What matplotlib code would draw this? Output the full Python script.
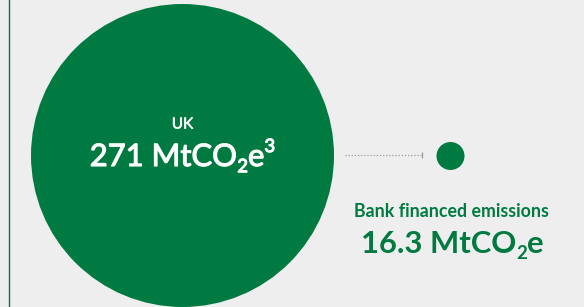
import matplotlib
matplotlib.use("Agg")
import matplotlib.pyplot as plt
from matplotlib.patches import Circle
from matplotlib.transforms import offset_copy
import matplotlib.patheffects as pe

# Data
categories = ["UK", "Bank financed emissions"]
emissions = [271, 16.3]          # MtCO2e
footnotes = ["3", ""]

GREEN = "#007A40"
BG = "#EEEEEE"

plt.rcParams["font.family"] = ["Lato", "DejaVu Sans"]

fig = plt.figure(figsize=(5.84, 3.07), dpi=100, facecolor=BG)
ax = fig.add_axes([0, 0, 1, 1])
ax.set_facecolor(BG)
ax.set_xlim(0, 584)
ax.set_ylim(307, 0)
ax.set_aspect("equal")
ax.axis("off")
renderer = fig.canvas.get_renderer()

# left rule
ax.plot([9, 9], [0, 307], color=GREEN, lw=1.0)

# circles
centers = [(182.5, 155.5), (450.5, 156)]
radii = [151.5, 14]
for (cx, cy), r in zip(centers, radii):
    ax.add_patch(Circle((cx, cy), r, color=GREEN, lw=0))


def rich_value(xc, ybase, value, fn, size, color, weight, stroke=0.0):
    """Draw '<value> MtCO2e<fn>' with real sub/superscripts, centred at xc,
    baseline at ybase (data coords)."""
    pieces = [(f"{value:g} MtCO", 1.0, 0.0), ("2", 0.6, -0.2 * size),
              ("e", 1.0, 0.0)]
    if fn:
        pieces.append((fn, 0.6, 0.45 * size))
    effects = [pe.withStroke(linewidth=stroke, foreground=color)] if stroke else []
    widths = []
    for s, sc, _ in pieces:
        t = ax.text(0, 0, s, fontsize=size * sc, fontweight=weight)
        widths.append(t.get_window_extent(renderer).width)
        t.remove()
    total = sum(widths)
    x0 = ax.transData.transform((xc, ybase))[0] - total / 2
    xpix = x0
    for (s, sc, dy), w in zip(pieces, widths):
        xd, _ = ax.transData.inverted().transform((xpix, 0))
        tr = offset_copy(ax.transData, fig=fig, x=0, y=dy, units="points")
        ax.text(xd, ybase, s, fontsize=size * sc, fontweight=weight,
                color=color, ha="left", va="baseline", transform=tr,
                path_effects=effects)
        xpix += w


# UK text
ax.text(182.5, 128.5, categories[0], color="white", fontsize=11,
        ha="center", va="baseline",
        path_effects=[pe.withStroke(linewidth=0.4, foreground="white")])
rich_value(182.5, 166, emissions[0], footnotes[0], 22.3, "white", "normal",
           stroke=0.8)

# connector
ax.plot([345, 421], [155, 155], color="#999999", lw=0.9, ls=(0, (1, 1.5)))
ax.plot([422], [155], marker="|", color="#999999", ms=5, mew=0.9)

# bank text
ax.text(451, 217, categories[1], color=GREEN, fontsize=12.8,
        ha="center", va="baseline", fontweight="bold")
rich_value(452, 253, emissions[1], footnotes[1], 22.3, GREEN, "bold")

fig.savefig("out.png", dpi=100, facecolor=BG)
